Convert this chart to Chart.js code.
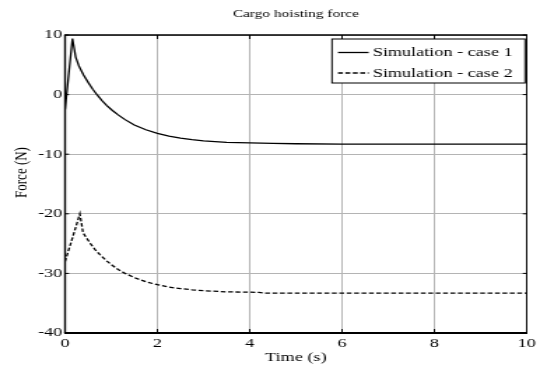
<!DOCTYPE html>
<html><head><meta charset="utf-8">
<script src="https://cdn.jsdelivr.net/npm/chart.js@4.4.0/dist/chart.umd.min.js"></script>
<style>html,body{margin:0;padding:0;background:#fff;overflow:hidden}</style>
</head><body>
<canvas id="c" width="386" height="372" style="display:block;width:540px;height:372px"></canvas>
<script>
const chartTitle = 'Cargo hoisting force';
const xAxisTitle = 'Time (s)';
const yAxisTitle = 'Force (N)';
const seriesLabels = ['Simulation - case 1', 'Simulation - case 2'];
const xTicks = [0, 2, 4, 6, 8, 10];
const yTicks = [-40, -30, -20, -10, 0, 10];

const time1  = [0, 0.16, 0.23, 0.3, 0.4, 0.5, 0.6, 0.7, 0.8, 0.9, 1.0, 1.15, 1.3, 1.5, 1.75, 2.0, 2.25, 2.5, 2.75, 3.0, 3.5, 4.0, 4.5, 5, 6, 7, 8, 9, 10];
const force1 = [-2.5, 9.4, 6.3, 4.8, 3.3, 2.05, 0.9, -0.1, -1.0, -1.8, -2.5, -3.4, -4.2, -5.1, -5.9, -6.5, -6.95, -7.3, -7.55, -7.75, -8.0, -8.1, -8.2, -8.25, -8.3, -8.3, -8.3, -8.3, -8.3];

const time2  = [0, 0.15, 0.32, 0.39, 0.45, 0.55, 0.65, 0.75, 0.9, 1.0, 1.15, 1.3, 1.5, 1.75, 2.0, 2.25, 2.5, 2.75, 3.0, 3.5, 4.0, 4.2, 4.3, 5, 6, 7, 8, 9, 10];
const force2 = [-28, -24.3, -20, -23.2, -23.9, -25.0, -26.0, -26.8, -27.9, -28.5, -29.35, -30.0, -30.7, -31.4, -31.9, -32.3, -32.55, -32.75, -32.9, -33.1, -33.15, -33.2, -33.3, -33.3, -33.3, -33.3, -33.3, -33.3, -33.3];

const FONT = "'Liberation Serif','Times New Roman',serif";
const SX = 540 / 386;

const framePlugin = {
  id: 'frame',
  afterDraw(chart) {
    const {ctx, chartArea: a, scales: {x, y}} = chart;
    ctx.save();
    const seg = (x1, y1, x2, y2) => { ctx.beginPath(); ctx.moveTo(x1, y1); ctx.lineTo(x2, y2); ctx.stroke(); };
    ctx.strokeStyle = '#000';
    ctx.lineWidth = 1;
    x.ticks.forEach(t => { const px = x.getPixelForValue(t.value); seg(px, a.bottom, px, a.bottom - 4); seg(px, a.top, px, a.top + 4); });
    y.ticks.forEach(t => { const py = y.getPixelForValue(t.value); seg(a.left, py, a.left + 4 / SX, py); seg(a.right, py, a.right - 4 / SX, py); });
    // axes box
    ctx.lineWidth = 1.3; seg(a.left - 0.6, a.top, a.right + 0.5, a.top);
    ctx.lineWidth = 2; seg(a.left - 0.6, a.bottom, a.right + 0.5, a.bottom);
    ctx.lineWidth = 1.4; seg(a.left, a.top, a.left, a.bottom);
    ctx.lineWidth = 1.0; seg(a.right, a.top, a.right, a.bottom);
    // legend
    const bx = 237.3, by = 39, bw = 138, bh = 44;
    ctx.fillStyle = '#fff';
    ctx.fillRect(bx, by, bw, bh);
    ctx.lineWidth = 1;
    ctx.strokeStyle = '#000';
    ctx.strokeRect(bx, by, bw, bh);
    ctx.font = `13px ${FONT}`;
    ctx.textAlign = 'left';
    ctx.textBaseline = 'middle';
    ctx.fillStyle = '#000';
    chart.data.datasets.forEach((ds, i) => {
      const ry = 52.5 + i * 20.5;
      ctx.save();
      ctx.strokeStyle = ds.borderColor;
      ctx.lineWidth = ds.borderWidth;
      ctx.setLineDash(ds.borderDash || []);
      seg(241.6, ry, 263.5, ry);
      ctx.restore();
      ctx.fillText(ds.label, 266.4, ry + 0.5);
    });
    // y axis title
    ctx.translate(15.7, 172.5);
    ctx.rotate(-Math.PI / 2);
    ctx.textAlign = 'center';
    ctx.textBaseline = 'middle';
    ctx.fillText(yAxisTitle, 0, 0);
    ctx.restore();
  }
};

const tickFont = {family: FONT, size: 13};
new Chart(document.getElementById('c'), {
  type: 'line',
  data: {
    datasets: [
      {label: seriesLabels[0], data: time1.map((t, i) => ({x: t, y: force1[i]})), borderColor: '#000', borderWidth: 1.3, pointRadius: 0, tension: 0, fill: false},
      {label: seriesLabels[1], data: time2.map((t, i) => ({x: t, y: force2[i]})), borderColor: '#000', borderWidth: 1.3, borderDash: [3.5, 1.8], pointRadius: 0, tension: 0, fill: false}
    ]
  },
  options: {
    responsive: false,
    animation: false,
    devicePixelRatio: 1,
    layout: {padding: {left: 0, right: 9.3, top: 0, bottom: 0}},
    plugins: {
      legend: {display: false},
      tooltip: {enabled: false},
      title: {display: true, text: chartTitle, fullSize: false, color: '#000',
        font: {family: FONT, size: 11, weight: 'normal'}, padding: {top: 7.4, bottom: 14.4}}
    },
    scales: {
      x: {
        type: 'linear', min: 0, max: 10,
        afterBuildTicks: s => { s.ticks = xTicks.map(v => ({value: v})); },
        afterFit: s => { s.height = 39; },
        ticks: {font: tickFont, color: '#000', padding: 3, maxRotation: 0, autoSkip: false},
        grid: {color: '#b4b4b4', lineWidth: 1, drawTicks: false},
        border: {display: false},
        title: {display: true, text: xAxisTitle, color: '#000', font: tickFont, padding: {top: 0, bottom: 6.2}}
      },
      y: {
        type: 'linear', min: -40, max: 10,
        afterBuildTicks: s => { s.ticks = yTicks.map(v => ({value: v})); },
        afterFit: s => { s.width = 46.5; },
        ticks: {font: tickFont, color: '#000', padding: 2, autoSkip: false},
        grid: {color: '#b4b4b4', lineWidth: 1, drawTicks: false},
        border: {display: false}
      }
    }
  },
  plugins: [framePlugin]
});
</script>
</body></html>
